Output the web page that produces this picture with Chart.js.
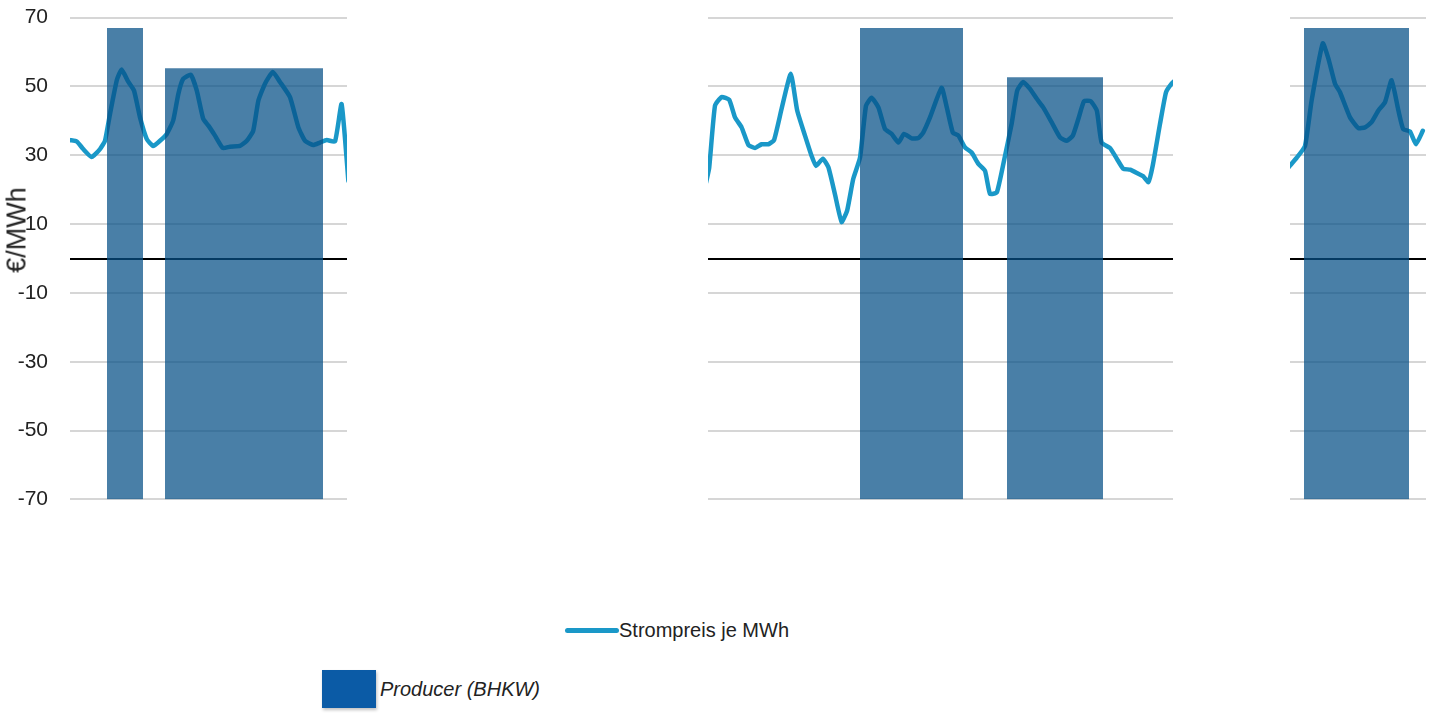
<!DOCTYPE html>
<html>
<head>
<meta charset="utf-8">
<script src="https://cdn.jsdelivr.net/npm/chart.js@4/dist/chart.umd.min.js"></script>
<style>
  html, body { margin: 0; padding: 0; background: #fff; overflow: hidden; }
  body { width: 1435px; height: 714px; position: relative; font-family: 'Liberation Sans', Arial, sans-serif; color: #222; }
  #wrap { position: absolute; left: 0; top: -17px; width: 1435px; height: 551px; }
  #ytitle { position: absolute; left: 17px; top: 230px; transform: translate(-50%, -50%) rotate(-90deg); font-size: 27px; white-space: nowrap; color: #222; }
  .leg { position: absolute; display: flex; align-items: center; font-size: 20px; color: #222; white-space: nowrap; }
  #legLine { left: 565px; top: 619px; }
  #legLine .sym { width: 54px; height: 5px; border-radius: 3px; background: #1a98c8; }
  #legBlock { left: 322px; top: 670px; font-style: italic; }
  #legBlock .sym { width: 54px; height: 38px; background: #0b5ba6; margin-right: 4px; box-shadow: 1px 2px 3px rgba(0,0,0,0.25); }
</style>
</head>
<body>
<div id="wrap"><canvas id="c"></canvas></div>
<div id="ytitle">€/MWh</div>
<div class="leg" id="legLine"><div class="sym"></div><span>Strompreis je MWh</span></div>
<div class="leg" id="legBlock"><div class="sym"></div><span>Producer (BHKW)</span></div>
<script>
// Hour index of each price sample (three observed windows, null = no data)
const hours = [
  0, 1.7, 3.3, 5.4, 7.5, 8.75, 10, 11.7, 12.9, 14.6, 16, 17.5, 19.2, 20.8, 22.5, 24.2, 25.8, 27.1, 28.3, 30.2,
  31.7, 33.3, 34.6, 36.25, 38.2, 40, 42.5, 44.2, 45.8, 47.1, 48.75, 50.7, 52.5, 55, 57.1, 58.75, 60.8, 62.5,
  64.2, 66.25, 67.9, 69.6, 70,
  159, 159.8, 161.25, 162.9, 164.8, 166.25, 167.9, 169.6, 171.25, 172.9, 174.6, 176, 177.9, 180.2, 181.8,
  183.75, 185.4, 186.5, 188.2, 189.6, 191.25, 192.9, 194.3, 195.8, 197.5, 199, 200.4, 202.1, 203.75, 205.4,
  207.1, 208.5, 210.4, 212.1, 213.3, 215, 217.9, 219.2, 220.7, 222.1, 223.75, 225.4, 227.1, 228.75, 230,
  231.7, 233.5, 235.4, 236.8, 238.3, 240, 241.7, 243.3, 245.4, 247.5, 249.2, 250.7, 252.1, 253.5, 255.2,
  256.7, 257.9, 260, 261.7, 263.3, 265, 267.1, 268.3, 269.6, 270.7, 272.5, 274, 275.4, 276.5, 277,
  304, 305, 306.7, 308.75, 310.4, 313.2, 314.6, 316.25, 317.5, 320, 322.1, 323.75, 325.4, 327.1, 328.75,
  330.4, 332.1, 333.3, 335, 336.5, 338.2
];
// Electricity price in €/MWh
const price = [
  34.4, 34.0, 31.8, 29.5, 31.8, 34.2, 42, 51.8, 54.9, 51.3, 48.8, 41, 34.7, 32.7, 34.2, 36.2, 40.1, 47.9, 52.2, 53.4,
  48.8, 40.6, 38.6, 35.7, 32.1, 32.5, 32.7, 34.2, 37.1, 45.9, 50.8, 54.2, 51.3, 46.9, 38.1, 34.2, 33, 33.7,
  34.4, 34, 44.9, 22.5, null,
  22, 26.4, 44.4, 46.9, 46.1, 41, 38.1, 33, 32.1, 33.2, 33.2, 34.4, 43.5, 53.7, 43,
  35.7, 29.8, 26.9, 29, 26.5, 18.6, 10.6, 14, 23.1, 29.3, 44.4, 46.7, 43.9, 37.6, 36.2,
  33.7, 36.2, 34.9, 35, 36.6, 41, 49.6, 43.9, 36.6, 35.7, 32.3, 30.8, 27.5, 25.5, 18.8,
  19.2, 28.4, 39.1, 48.8, 51.3, 49.3, 46.4, 43.9, 39.6, 35.2, 34.2, 35.7, 40.6, 45.7, 45.7,
  43, 33.7, 32.1, 29, 26.1, 25.8, 24.6, 23.9, 22.2, 27.1, 39.1, 48.3, 50.8, 52, null,
  25.5, 27, 29.3, 32.7, 45.9, 62.5, 58.1, 50.8, 48.3, 41, 37.9, 38.1, 39.6, 43, 45.4,
  51.8, 43, 37.6, 36.9, 33.2, 37.1
];
// Producer (BHKW) running periods: start hour, end hour, block height (€/MWh)
const blockStart = [9.25, 23.75, 197.5, 234.25, 308.5];
const blockEnd   = [18.25, 63.25, 223.25, 258.25, 334.75];
const blockTop   = [67, 55.3, 67, 52.7, 67];
// Periods without data (blank on the chart)
const gapStart = [69.25, 275.75];
const gapEnd   = [159.5, 305];
// Value axis ticks
const yMin = -70, yMax = 70, yStep = 20;

const lineColor = '#1a98c8';
const blockColor = 'rgba(6,80,135,0.73)';

const priceData = hours.map((h, i) => ({ x: h, y: price[i] }));

const blockSets = blockStart.map((s, i) => ({
  type: 'line',
  label: 'Producer (BHKW)',
  data: [{ x: s, y: blockTop[i] }, { x: blockEnd[i], y: blockTop[i] }],
  borderWidth: 0,
  borderColor: 'rgba(0,0,0,0)',
  backgroundColor: blockColor,
  fill: 'start',
  pointRadius: 0,
  tension: 0,
  order: 0
}));

const gapMask = {
  id: 'gapMask',
  afterDatasetsDraw(chart) {
    const { ctx, chartArea, scales } = chart;
    ctx.save();
    ctx.fillStyle = '#ffffff';
    gapStart.forEach((s, i) => {
      const x0 = scales.x.getPixelForValue(s);
      const x1 = scales.x.getPixelForValue(gapEnd[i]);
      ctx.fillRect(x0, chartArea.top - 10, x1 - x0, chartArea.bottom - chartArea.top + 22);
    });
    ctx.restore();
  }
};

const fontFam = "'Liberation Sans', Arial, sans-serif";

new Chart(document.getElementById('c'), {
  type: 'line',
  data: {
    datasets: [
      {
        label: 'Strompreis je MWh',
        data: priceData,
        borderColor: lineColor,
        borderWidth: 4.5,
        borderJoinStyle: 'round',
        borderCapStyle: 'round',
        pointRadius: 0,
        tension: 0.15,
        spanGaps: false,
        fill: false,
        order: 1
      },
      ...blockSets
    ]
  },
  options: {
    responsive: true,
    maintainAspectRatio: false,
    animation: false,
    layout: { padding: { top: 0, bottom: 7, left: 0, right: 9 } },
    plugins: { legend: { display: false }, tooltip: { enabled: false } },
    scales: {
      x: { type: 'linear', min: 0, max: 339, display: false },
      y: {
        min: yMin, max: yMax,
        afterFit(scale) { scale.width = 70; },
        afterBuildTicks(scale) {
          const t = scale.ticks.filter(k => k.value !== 0);
          t.push({ value: 0 });
          t.sort((a, b) => a.value - b.value);
          scale.ticks = t;
        },
        ticks: {
          stepSize: yStep,
          padding: 22,
          color: '#222',
          font: { family: fontFam, size: 21 },
          callback: v => (v === 0 ? '' : String(v))
        },
        border: { display: false },
        grid: {
          drawTicks: false,
          color: c => (c.tick && c.tick.value === 0 ? '#000000' : '#d6d6d6'),
          lineWidth: 2
        }
      }
    }
  },
  plugins: [gapMask]
});
</script>
</body>
</html>
